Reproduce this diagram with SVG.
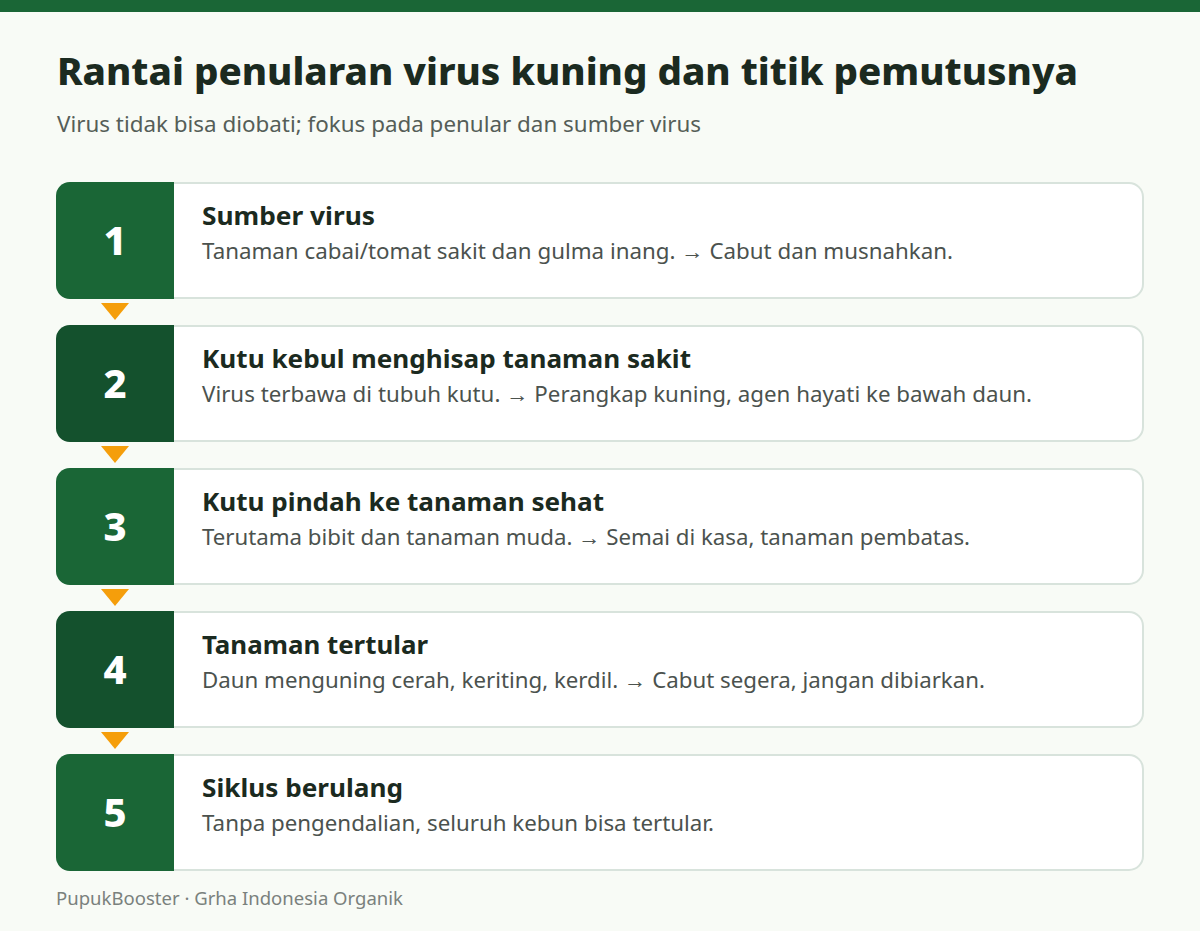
<svg xmlns="http://www.w3.org/2000/svg" width="1200" height="931" viewBox="0 0 1200 931">
<style>
.t{font-family:"Noto Sans","Open Sans",sans-serif;}
.h1{font-size:38px;font-weight:800;fill:#1b2a20;}
.sub{font-size:21px;fill:#555e58;}
.ttl{font-size:25px;font-weight:700;fill:#1b2a20;}
.dsc{font-size:21px;fill:#4b524e;}
.num{font-size:40px;font-weight:800;fill:#ffffff;text-anchor:middle;}
.foot{font-size:18px;fill:#7a817d;}
.card{fill:#ffffff;stroke:#d8e3dc;stroke-width:2;}
.arr{fill:#f59e0b;}
</style>
<rect width="1200" height="931" fill="#f8fbf6"/>
<rect width="1200" height="12" fill="#1a6636"/>
<text class="t h1" x="57" y="85" textLength="1021" lengthAdjust="spacingAndGlyphs">Rantai penularan virus kuning dan titik pemutusnya</text>
<text class="t sub" x="57" y="132" textLength="644" lengthAdjust="spacingAndGlyphs">Virus tidak bisa diobati; fokus pada penular dan sumber virus</text>

<g id="connectors">
<polygon class="arr" points="101,303 129,303 115,320"/>
<polygon class="arr" points="101,446 129,446 115,463"/>
<polygon class="arr" points="101,589 129,589 115,606"/>
<polygon class="arr" points="101,732 129,732 115,749"/>
</g>

<g id="step1">
<rect class="card" x="57" y="183" width="1086" height="115" rx="14"/>
<path d="M70,182 H174 V299 H70 A14,14 0 0 1 56,285 V196 A14,14 0 0 1 70,182 Z" fill="#1a6636"/>
<text class="t num" x="115" y="255">1</text>
<text class="t ttl" x="202" y="225" textLength="173" lengthAdjust="spacingAndGlyphs">Sumber virus</text>
<text class="t dsc" x="202" y="259" textLength="751" lengthAdjust="spacingAndGlyphs">Tanaman cabai/tomat sakit dan gulma inang. → Cabut dan musnahkan.</text>
</g>

<g id="step2">
<rect class="card" x="57" y="326" width="1086" height="115" rx="14"/>
<path d="M70,325 H174 V442 H70 A14,14 0 0 1 56,428 V339 A14,14 0 0 1 70,325 Z" fill="#14512d"/>
<text class="t num" x="115" y="398">2</text>
<text class="t ttl" x="202" y="368" textLength="489" lengthAdjust="spacingAndGlyphs">Kutu kebul menghisap tanaman sakit</text>
<text class="t dsc" x="202" y="402" textLength="830" lengthAdjust="spacingAndGlyphs">Virus terbawa di tubuh kutu. → Perangkap kuning, agen hayati ke bawah daun.</text>
</g>

<g id="step3">
<rect class="card" x="57" y="469" width="1086" height="115" rx="14"/>
<path d="M70,468 H174 V585 H70 A14,14 0 0 1 56,571 V482 A14,14 0 0 1 70,468 Z" fill="#1a6636"/>
<text class="t num" x="115" y="541">3</text>
<text class="t ttl" x="202" y="511" textLength="402" lengthAdjust="spacingAndGlyphs">Kutu pindah ke tanaman sehat</text>
<text class="t dsc" x="202" y="545" textLength="768" lengthAdjust="spacingAndGlyphs">Terutama bibit dan tanaman muda. → Semai di kasa, tanaman pembatas.</text>
</g>

<g id="step4">
<rect class="card" x="57" y="612" width="1086" height="115" rx="14"/>
<path d="M70,611 H174 V728 H70 A14,14 0 0 1 56,714 V625 A14,14 0 0 1 70,611 Z" fill="#14512d"/>
<text class="t num" x="115" y="684">4</text>
<text class="t ttl" x="202" y="654" textLength="226" lengthAdjust="spacingAndGlyphs">Tanaman tertular</text>
<text class="t dsc" x="202" y="688" textLength="783" lengthAdjust="spacingAndGlyphs">Daun menguning cerah, keriting, kerdil. → Cabut segera, jangan dibiarkan.</text>
</g>

<g id="step5">
<rect class="card" x="57" y="755" width="1086" height="115" rx="14"/>
<path d="M70,754 H174 V871 H70 A14,14 0 0 1 56,857 V768 A14,14 0 0 1 70,754 Z" fill="#1a6636"/>
<text class="t num" x="115" y="827">5</text>
<text class="t ttl" x="202" y="797" textLength="201" lengthAdjust="spacingAndGlyphs">Siklus berulang</text>
<text class="t dsc" x="202" y="831" textLength="512" lengthAdjust="spacingAndGlyphs">Tanpa pengendalian, seluruh kebun bisa tertular.</text>
</g>

<text class="t foot" x="56" y="905" textLength="347" lengthAdjust="spacingAndGlyphs">PupukBooster · Grha Indonesia Organik</text>
</svg>
